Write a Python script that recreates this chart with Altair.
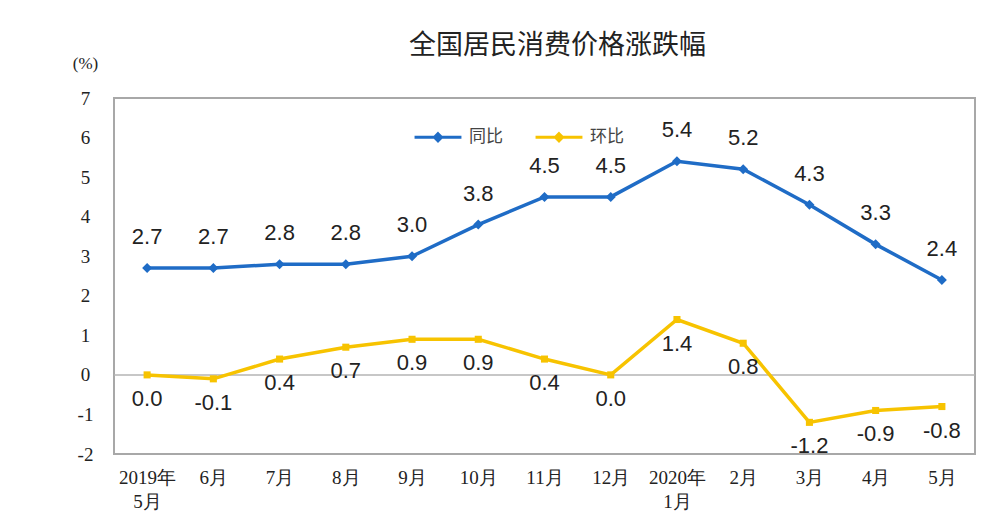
import altair as alt
import pandas as pd

months = ["2019年\n5月", "6月", "7月", "8月", "9月", "10月", "11月", "12月",
          "2020年\n1月", "2月", "3月", "4月", "5月"]
yoy = [2.7, 2.7, 2.8, 2.8, 3.0, 3.8, 4.5, 4.5, 5.4, 5.2, 4.3, 3.3, 2.4]
mom = [0.0, -0.1, 0.4, 0.7, 0.9, 0.9, 0.4, 0.0, 1.4, 0.8, -1.2, -0.9, -0.8]
series = ["同比", "环比"]
colors = ["#1F6CC6", "#F7C300"]
y_ticks = [-2, -1, 0, 1, 2, 3, 4, 5, 6, 7]

rows = []
for m, a, b in zip(months, yoy, mom):
    rows.append({"month": m, "series": series[0], "value": a, "label": f"{a:.1f}"})
    rows.append({"month": m, "series": series[1], "value": b, "label": f"{b:.1f}"})
df = pd.DataFrame(rows)

x = alt.X("month:N", sort=months, title=None,
          scale=alt.Scale(type="point", padding=0.5),
          axis=alt.Axis(labelAngle=0, domain=False, ticks=False, labelPadding=14,
                        labelFont="Liberation Serif", labelFontSize=19, labelColor="#222",
                        labelExpr="split(datum.value, '\\n')", labelLineHeight=24,
                        labelBaseline="top"))
y = alt.Y("value:Q", title="(%)",
          scale=alt.Scale(domain=[-2, 7], nice=False, zero=False),
          axis=alt.Axis(values=y_ticks, grid=False, domain=False, ticks=False,
                        tickSize=0, labelPadding=29, labelAlign="center",
                        labelOverlap=False, labelFlush=False, labelBaseline="middle",
                        labelExpr="datum.value < 0 ? '-' + abs(datum.value) : '' + datum.value",
                        labelFont="Liberation Serif", labelFontSize=19, labelColor="#222",
                        titleAngle=0, titleX=-29, titleY=-35, titleAlign="center",
                        titleBaseline="middle", titleFont="Liberation Serif",
                        titleFontSize=17, titleFontWeight="normal", titleColor="#222"))

color = alt.Color("series:N", scale=alt.Scale(domain=series, range=colors),
                  legend=alt.Legend(title=None, orient="none", legendX=299, legendY=14,
                                    direction="horizontal",
                                    symbolType="M-1,0H1M0,-0.15L0.15,0L0,0.15L-0.15,0Z",
                                    symbolSize=2200, symbolStrokeWidth=3,
                                    labelFont="Noto Sans CJK SC", labelFontSize=17,
                                    labelColor="#444", columnPadding=26, labelOffset=6))

base = alt.Chart(df)

zero = alt.Chart(pd.DataFrame({"value": [0]})).mark_rule(color="#B5B5B5", strokeWidth=1.5).encode(y=y)

lines = base.mark_line(strokeWidth=3.5).encode(x=x, y=y, color=color)
pts_a = base.transform_filter(alt.datum.series == series[0]).mark_point(
    shape="diamond", filled=True, size=100, opacity=1).encode(
    x=x, y=y, color=alt.Color("series:N", scale=alt.Scale(domain=series, range=colors), legend=None))
pts_b = base.transform_filter(alt.datum.series == series[1]).mark_point(
    shape="square", filled=True, size=50, opacity=1).encode(
    x=x, y=y, color=alt.Color("series:N", scale=alt.Scale(domain=series, range=colors), legend=None))

lab_a = base.transform_filter(alt.datum.series == series[0]).mark_text(
    dy=-31, font="Liberation Sans", fontSize=22, color="#222").encode(x=x, y=y, text="label:N")
lab_b = base.transform_filter(alt.datum.series == series[1]).mark_text(
    dy=24, font="Liberation Sans", fontSize=22, color="#222").encode(x=x, y=y, text="label:N")

chart = alt.layer(zero, lines, pts_a, pts_b, lab_a, lab_b).properties(
    width=861, height=356,
    title=alt.TitleParams("全国居民消费价格涨跌幅", font="Noto Sans CJK SC", fontSize=27,
                          fontWeight="normal", color="#222", anchor="middle", dx=13,
                          offset=-6, frame="group"),
    autosize=alt.AutoSizeParams(type="none"),
    padding={"left": 106, "top": 90, "right": 17, "bottom": 67},
    background="white",
).configure_view(stroke="#A8A8A8", strokeWidth=2)

chart.save("out.html", embed_options={"renderer": "svg", "actions": False})
